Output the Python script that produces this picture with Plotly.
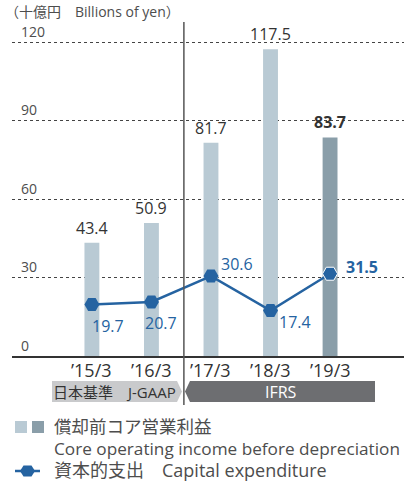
import plotly.graph_objects as go

_FONT = "'Open Sans', 'Noto Sans CJK JP', sans-serif"
_TEXT = "#333333"
_AXIS_TEXT = "#4d4d4d"
_BLUE = "#2563a1"
_BAR_LIGHT = "#b9cad4"
_BAR_DARK = "#8a9ea9"

# data
periods = ["’15/3", "’16/3", "’17/3", "’18/3", "’19/3"]
core_income = [43.4, 50.9, 81.7, 117.5, 83.7]
capex = [19.7, 20.7, 30.6, 17.4, 31.5]
bar_colors = [_BAR_LIGHT, _BAR_LIGHT, _BAR_LIGHT, _BAR_LIGHT, _BAR_DARK]
y_ticks = [0, 30, 60, 90, 120]

W, H = 404, 481
L, R, T, B = 12, 0, 40, 125
PW, PH = W - L - R, H - T - B


def px(x):
    return (x - L) / PW


def py(y):
    return (H - B - y) / PH


xs = list(range(len(periods)))

fig = go.Figure()
fig.add_trace(go.Bar(
    x=xs, y=core_income, width=0.25,
    marker=dict(color=bar_colors, line=dict(width=0)),
    hoverinfo="skip",
))
fig.add_trace(go.Scatter(
    x=xs, y=capex, mode="lines+markers",
    line=dict(color=_BLUE, width=2.5),
    marker=dict(symbol="hexagon2", size=15, color=_BLUE,
                line=dict(color=["rgba(0,0,0,0)"] * 4 + ["white"], width=1)),
    hoverinfo="skip",
))

ann = []
# y tick labels above gridlines
for v in y_ticks:
    ann.append(dict(x=px(19), y=v, xref="paper", yref="y", text=str(v),
                    showarrow=False, xanchor="left", yanchor="middle", yshift=11,
                    font=dict(size=14, color=_AXIS_TEXT)))
# x labels
for i, p in enumerate(periods):
    ann.append(dict(x=i, y=py(370), xref="x", yref="paper", text=p,
                    showarrow=False, xanchor="center", yanchor="middle",
                    font=dict(size=18, color=_TEXT)))
# bar value labels
for i, v in enumerate(core_income):
    bold = i == len(core_income) - 1
    ann.append(dict(x=i, y=v, xref="x", yref="y",
                    text=f"<b>{v}</b>" if bold else str(v),
                    showarrow=False, xanchor="center", yanchor="bottom", yshift=2,
                    font=dict(size=16, color=_TEXT)))
# capex labels
capex_offsets = [(16, -21), (10, -21), (26, 12), (24, -11), (32, 7)]
for i, v in enumerate(capex):
    dx, dy = capex_offsets[i]
    bold = i == len(capex) - 1
    ann.append(dict(x=i, y=v, xref="x", yref="y",
                    text=f"<b>{v}</b>" if bold else str(v),
                    showarrow=False, xanchor="center", yanchor="middle",
                    xshift=dx, yshift=dy,
                    font=dict(size=16, color=_BLUE)))
# unit label
ann.append(dict(x=px(3), y=py(12), xref="paper", yref="paper",
                text="（十億円　Billions of yen）", showarrow=False,
                xanchor="left", yanchor="middle",
                font=dict(size=14, color=_AXIS_TEXT)))
# banner texts
ann.append(dict(x=px(114), y=py(392), xref="paper", yref="paper",
                text="日本基準　J-GAAP", showarrow=False,
                xanchor="center", yanchor="middle",
                font=dict(size=15, color=_TEXT)))
ann.append(dict(x=px(281), y=py(392), xref="paper", yref="paper",
                text="IFRS", showarrow=False, xanchor="center", yanchor="middle",
                font=dict(size=16, color="white")))
# legend texts
ann.append(dict(x=px(52), y=py(426), xref="paper", yref="paper",
                text="償却前コア営業利益", showarrow=False,
                xanchor="left", yanchor="middle", font=dict(size=17.5, color=_AXIS_TEXT)))
ann.append(dict(x=px(52), y=py(448), xref="paper", yref="paper",
                text="Core operating income before depreciation", showarrow=False,
                xanchor="left", yanchor="middle", font=dict(size=17.2, color=_AXIS_TEXT)))
ann.append(dict(x=px(52), y=py(470), xref="paper", yref="paper",
                text="資本的支出　Capital expenditure", showarrow=False,
                xanchor="left", yanchor="middle", font=dict(size=18, color=_AXIS_TEXT)))


def poly(points):
    return "M " + " L ".join(f"{px(a):.5f},{py(b):.5f}" for a, b in points) + " Z"


shapes = [
    # divider between J-GAAP and IFRS
    dict(type="line", xref="x", yref="paper", x0=1.545, x1=1.545,
         y0=py(22), y1=py(405), line=dict(color="#555555", width=1.5)),
    # banners
    dict(type="path", xref="paper", yref="paper",
         path=poly([(52, 381), (177, 381), (182, 391.5), (177, 402), (52, 402)]),
         fillcolor="#c9cacc", line=dict(width=0)),
    dict(type="path", xref="paper", yref="paper",
         path=poly([(185, 391.5), (190, 381), (375, 381), (375, 402), (190, 402)]),
         fillcolor="#6d6e71", line=dict(width=0)),
    # legend squares
    dict(type="rect", xref="paper", yref="paper", x0=px(15), x1=px(27),
         y0=py(433), y1=py(421), fillcolor=_BAR_LIGHT, line=dict(width=0)),
    dict(type="rect", xref="paper", yref="paper", x0=px(32), x1=px(44),
         y0=py(433), y1=py(421), fillcolor=_BAR_DARK, line=dict(width=0)),
    # legend line + hexagon
    dict(type="line", xref="paper", yref="paper", x0=px(15), x1=px(40),
         y0=py(471), y1=py(471), line=dict(color=_BLUE, width=2.5)),
    dict(type="path", xref="paper", yref="paper",
         path=poly([(20, 471), (23.5, 465.5), (31.5, 465.5), (35, 471),
                    (31.5, 476.5), (23.5, 476.5)]),
         fillcolor=_BLUE, line=dict(width=0)),
]

fig.update_layout(
    width=W, height=H,
    margin=dict(l=L, r=R, t=T, b=B),
    paper_bgcolor="white", plot_bgcolor="white",
    font=dict(family=_FONT, color=_TEXT),
    showlegend=False,
    xaxis=dict(range=[-1.342, 5.242], showticklabels=False, showgrid=False,
               zeroline=False, showline=True, linecolor="#333333", linewidth=1.5,
               fixedrange=True),
    yaxis=dict(range=[0, 121], tickvals=y_ticks, showticklabels=False,
               showgrid=True, gridcolor="#444444", griddash="dot", gridwidth=1,
               zeroline=False, fixedrange=True),
    annotations=ann,
    shapes=shapes,
)

fig.write_html(
    "out.html",
    config={"displayModeBar": False},
    post_script="document.body.style.margin='0';document.body.style.overflow='hidden';",
)
